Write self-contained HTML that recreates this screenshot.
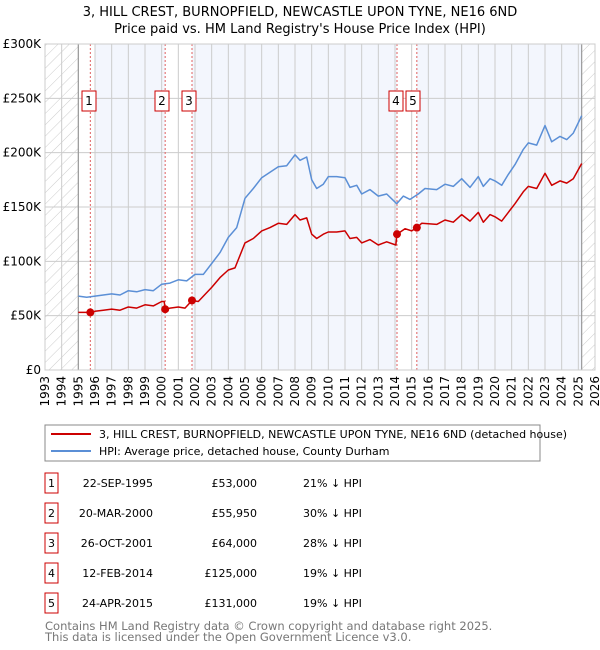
<!DOCTYPE html>
<html><head><meta charset="utf-8">
<style>
body{margin:0;background:#fff;font-family:"DejaVu Sans","Liberation Sans",sans-serif;}
svg{display:block}
text{font-family:"DejaVu Sans","Liberation Sans",sans-serif;}
</style></head>
<body>
<svg id="chart" width="600" height="650" xmlns="http://www.w3.org/2000/svg">
<defs>
<pattern id="hatch" width="8" height="8" patternUnits="userSpaceOnUse" patternTransform="rotate(45)">
<line x1="0" y1="0" x2="0" y2="8" stroke="#ccc" stroke-width="1"/>
</pattern>
</defs>
<text x="300" y="16" text-anchor="middle" font-size="13">3, HILL CREST, BURNOPFIELD, NEWCASTLE UPON TYNE, NE16 6ND</text>
<text x="300" y="33" text-anchor="middle" font-size="13">Price paid vs. HM Land Registry's House Price Index (HPI)</text>
<g id="plot"></g>
<g id="legend">
<rect x="45" y="425" width="495" height="36" fill="#fff" stroke="#888"/>
<line x1="51" y1="434" x2="91" y2="434" stroke="#cc0000" stroke-width="2"/>
<text x="99" y="438" font-size="11">3, HILL CREST, BURNOPFIELD, NEWCASTLE UPON TYNE, NE16 6ND (detached house)</text>
<line x1="51" y1="451" x2="91" y2="451" stroke="#5b8fd6" stroke-width="2"/>
<text x="99" y="455" font-size="11">HPI: Average price, detached house, County Durham</text>
</g>
<g id="table"></g>
<text x="45" y="630" font-size="11.5" fill="#777">Contains HM Land Registry data © Crown copyright and database right 2025.</text>
<text x="45" y="641" font-size="11.5" fill="#777">This data is licensed under the Open Government Licence v3.0.</text>
</svg>
<script>
const yearTicks=[1993,1994,1995,1996,1997,1998,1999,2000,2001,2002,2003,2004,2005,2006,2007,2008,2009,2010,2011,2012,2013,2014,2015,2016,2017,2018,2019,2020,2021,2022,2023,2024,2025,2026];
const priceTicks=[0,50,100,150,200,250,300];
const priceTickLabels=["£0","£50K","£100K","£150K","£200K","£250K","£300K"];
const hpiT=[1995,1995.5,1996,1996.5,1997,1997.5,1998,1998.5,1999,1999.5,2000,2000.5,2001,2001.5,2002,2002.5,2003,2003.5,2004,2004.5,2005,2005.5,2006,2006.5,2007,2007.5,2008,2008.3,2008.7,2009,2009.3,2009.7,2010,2010.5,2011,2011.3,2011.7,2012,2012.5,2013,2013.5,2014.1,2014.5,2014.9,2015.4,2015.8,2016.5,2017,2017.5,2018,2018.5,2019,2019.3,2019.7,2020,2020.4,2020.8,2021.2,2021.7,2022,2022.5,2023,2023.4,2023.9,2024.3,2024.7,2025.2];
const hpiV=[68,67,68,69,70,69,73,72,74,73,79,80,83,82,88,88,98,108,122,131,158,167,177,182,187,188,198,193,196,175,167,171,178,178,177,168,170,162,166,160,162,153,160,157,162,167,166,171,169,176,168,178,169,176,174,170,180,189,203,209,207,225,210,215,212,218,234];
const propT=[1995,1995.72,1996,1996.5,1997,1997.5,1998,1998.5,1999,1999.5,2000,2000.15,2000.21,2000.5,2001,2001.4,2001.82,2002.2,2003,2003.5,2004,2004.4,2005,2005.5,2006,2006.5,2007,2007.5,2008,2008.3,2008.7,2009,2009.3,2009.7,2010,2010.5,2011,2011.3,2011.7,2012,2012.5,2013,2013.5,2014.05,2014.12,2014.6,2015,2015.31,2015.6,2016.5,2017,2017.5,2018,2018.5,2019,2019.3,2019.7,2020,2020.4,2020.8,2021.2,2021.7,2022,2022.5,2023,2023.4,2023.9,2024.3,2024.7,2025.2];
const propV=[53,53,54,55,56,55,58,57,60,59,63,63,56,57,58,57,64,63,76,85,92,94,117,121,128,131,135,134,143,138,140,125,121,125,127,127,128,121,122,117,120,115,118,115,125,130,128,131,135,134,138,136,143,137,145,136,143,141,137,145,153,164,169,167,181,170,174,172,176,190];
const saleLabels=["1","2","3","4","5"];
const saleT=[1995.72,2000.21,2001.82,2014.12,2015.31];
const saleV=[53,55.95,64,125,131];
const saleDates=["22-SEP-1995","20-MAR-2000","26-OCT-2001","12-FEB-2014","24-APR-2015"];
const salePrices=["£53,000","£55,950","£64,000","£125,000","£131,000"];
const saleHpi=["21% ↓ HPI","30% ↓ HPI","28% ↓ HPI","19% ↓ HPI","19% ↓ HPI"];

const NS="http://www.w3.org/2000/svg";
const X0=45,X1=595,Y0=370,Y1=44;
const xs=t=>X0+(t-1993)/(2026-1993)*(X1-X0);
const ys=v=>Y0-v/300*(Y0-Y1);
const plot=document.getElementById('plot');
function mk(tag,attrs,parent){const e=document.createElementNS(NS,tag);for(const k in attrs)e.setAttribute(k,attrs[k]);(parent||plot).appendChild(e);return e;}

let r=mk('rect',{x:X0,y:Y1,width:X1-X0,height:Y0-Y1,fill:'#fff'});


// shaded bands
const bands=[[1996,saleT[1]],[saleT[2],saleT[3]],[saleT[4],2025.2]];
bands.forEach((b,i)=>{const e=mk('rect',{x:xs(b[0]),y:Y1,width:xs(b[1])-xs(b[0]),height:Y0-Y1,fill:'#f3f6fd'});

});
// hatch
[[1993,1995],[2025.2,2026]].forEach(b=>{const e=mk('rect',{x:xs(b[0]),y:Y1,width:xs(b[1])-xs(b[0]),height:Y0-Y1,fill:'url(#hatch)'});

});
// grid
yearTicks.forEach(t=>{const e=mk('line',{x1:xs(t),x2:xs(t),y1:Y1,y2:Y0,stroke:'#ccc','stroke-width':1});


const tx=mk('text',{x:0,y:0,'font-size':12,'text-anchor':'end',transform:`translate(${xs(t)+4},${Y0+6}) rotate(-90)`});
tx.textContent=t;

});
priceTicks.forEach((v,i)=>{const e=mk('line',{x1:X0,x2:X1,y1:ys(v),y2:ys(v),stroke:'#ccc','stroke-width':1});


const tx=mk('text',{x:X0-4,y:ys(v)+4,'font-size':12,'text-anchor':'end'});
tx.textContent=priceTickLabels[i];

});
[1995,2025.2].forEach(t=>{const e=mk('line',{x1:xs(t),x2:xs(t),y1:Y1,y2:Y0,stroke:'#999','stroke-width':1.2});

});
// sale markers lines + labels
saleT.forEach((t,i)=>{const e=mk('line',{x1:xs(t),x2:xs(t),y1:Y1,y2:Y0,stroke:'#e06060','stroke-width':1,'stroke-dasharray':'2,2'});


const bx=xs(t)-7, off=(i==2||i==4)?13:((i==0||i==3)?-13:-13);
});
const boxX=[xs(saleT[0])-2,xs(saleT[1])-3,xs(saleT[2])+4,xs(saleT[3])-3,xs(saleT[4])+4];
saleLabels.forEach((s,i)=>{const cx=(i==2||i==4)?xs(saleT[i])-4+9:xs(saleT[i])-7;
const bx=(i==2||i==4)?xs(saleT[i])-11+11:xs(saleT[i])-7;
const g=mk('g',{});


const left=(i==2||i==4)?xs(saleT[i])-11+ (i==2?-1:-1):xs(saleT[i])-7;
const lx=[82,155,182,389,406][i];
mk('rect',{x:lx,y:91,width:14,height:20,fill:'#fff',stroke:'#cc0000','stroke-width':1},g);
const tx=mk('text',{x:lx+7,y:105,'font-size':12,'text-anchor':'middle'},g);tx.textContent=s;});
function path(T,V,color,name){let d='';T.forEach((t,i)=>{d+=(i?'L':'M')+xs(t).toFixed(1)+','+ys(V[i]).toFixed(1);});
const e=mk('path',{d:d,fill:'none',stroke:color,'stroke-width':1.5,'stroke-linejoin':'round'});

}
path(hpiT,hpiV,'#5b8fd6','hpi-line');
path(propT,propV,'#cc0000','property-line');
saleT.forEach((t,i)=>{const c=mk('circle',{cx:xs(t),cy:ys(saleV[i]),r:4,fill:'#cc0000'});

});
const fr=mk('rect',{x:X0,y:Y1,width:X1-X0,height:Y0-Y1,fill:'none',stroke:'#ccc'});


// table
const tb=document.getElementById('table');
const rowY=[483,513,543,573,603];
saleLabels.forEach((s,i)=>{const y=rowY[i];
const g=mk('g',{},tb);


mk('rect',{x:45,y:y-10,width:13,height:20,fill:'#fff',stroke:'#cc0000'},g);
let t=mk('text',{x:51.5,y:y+4,'font-size':11,'text-anchor':'middle'},g);t.textContent=s;
t=mk('text',{x:153,y:y+4,'font-size':11,'text-anchor':'end'},g);t.textContent=saleDates[i];
t=mk('text',{x:257,y:y+4,'font-size':11,'text-anchor':'end'},g);t.textContent=salePrices[i];
t=mk('text',{x:303,y:y+4,'font-size':11},g);t.textContent=saleHpi[i];});
</script>
</body></html>
